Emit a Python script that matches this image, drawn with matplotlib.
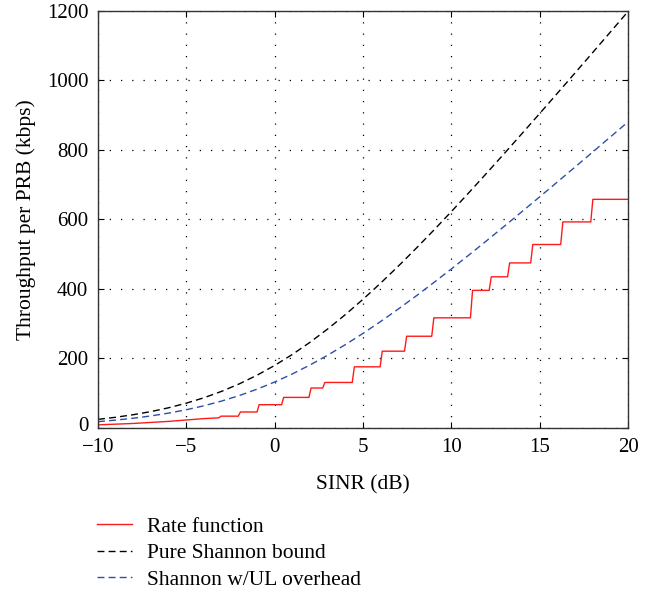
import matplotlib
matplotlib.use('Agg')
import matplotlib.pyplot as plt
import matplotlib.transforms as mtransforms

plt.rcParams['font.family'] = ['Liberation Serif', 'DejaVu Serif']

# SINR grid (dB) for the smooth curves
sinr_db = list(range(-10, 21))

# Pure Shannon bound (kbps per PRB)
shannon = [24.8, 30.8, 38.2, 47.2, 58.2, 71.4, 87.0, 105.5, 127.0, 151.8,
           180.0, 211.6, 246.6, 284.9, 326.2, 370.3, 417.0, 465.8, 516.6, 568.9,
           622.7, 677.6, 733.4, 790.0, 847.3, 905.0, 963.2, 1021.6, 1080.4, 1139.4,
           1198.5]

# Shannon with UL overhead
shannon_ul = [18.2, 22.6, 28.1, 34.7, 42.8, 52.5, 63.9, 77.5, 93.3, 111.6,
              132.3, 155.5, 181.3, 209.4, 239.8, 272.2, 306.5, 342.4, 379.7, 418.1,
              457.7, 498.0, 539.0, 580.7, 622.8, 665.2, 707.9, 750.9, 794.1, 837.5,
              880.9]

# Rate function: low-SINR ramp then a staircase
ramp_x = [-10, -9, -8, -7, -6, -5, -4.5, -4, -3.2]
ramp_y = [9, 11, 13, 16, 19, 23, 25, 27, 29]
step_edges = [-3.1, -2.0, -0.94, 0.45, 2.0, 2.78, 4.45, 6.03, 7.41, 8.95,
              11.14, 12.2, 13.24, 14.55, 16.25, 17.95]
step_levels = [34, 46, 67, 88, 115, 131, 176, 221, 264, 317,
               396, 435, 475, 528, 593, 658]

rate_x = list(ramp_x)
rate_y = list(ramp_y)
prev = ramp_y[-1]
for edge, level in zip(step_edges, step_levels):
    rate_x += [edge - 0.06, edge + 0.06]
    rate_y += [prev, level]
    prev = level
rate_x.append(20)
rate_y.append(prev)

fig = plt.figure(figsize=(6.59, 5.94), dpi=100)
ax = fig.add_axes([0.1487, 0.2795, 0.8043, 0.702])

ax.plot(rate_x, rate_y, color='#ff1a1a', linewidth=1.0, label='Rate function')
ax.plot(sinr_db, shannon, color='black', linewidth=1.0, linestyle=(0, (5, 3)),
        label='Pure Shannon bound')
ax.plot(sinr_db, shannon_ul, color='#2e4fa8', linewidth=1.0, linestyle=(0, (5, 3)),
        label='Shannon w/UL overhead')

ax.set_xlim(-10, 20)
ax.set_ylim(0, 1200)
ax.set_xticks(range(-10, 21, 5))
ax.set_yticks(range(0, 1201, 200))
ax.set_xticklabels(['\u221210', '\u22125', '0', '5', '10', '15', '20'])
ax.tick_params(direction='in', top=True, right=True, labelsize=15, length=4)
ax.tick_params(axis='y', pad=7)
ax.tick_params(axis='x', pad=7)
ax.grid(True, color='black', linestyle=(0, (1, 8)), linewidth=0.9)
for s in ax.spines.values():
    s.set_linewidth(1.0)
    s.set_color('#333333')

# nudge the "0" label up a little so it clears the "-10" below it
zero_lbl = ax.get_yticklabels()[0]
zero_lbl.set_transform(zero_lbl.get_transform() +
                       mtransforms.ScaledTranslation(0, 3 / 72, fig.dpi_scale_trans))

ax.set_xlabel('SINR (dB)', fontsize=15.5, labelpad=13)
ax.set_ylabel('Throughput per PRB (kbps)', fontsize=15.5, labelpad=8)

fig.legend(loc='upper left', bbox_to_anchor=(0.1175, 0.1625), frameon=False,
           fontsize=15.5, handlelength=1.63, handletextpad=0.7, labelspacing=0.3)

fig.savefig('out.png', dpi=100)
